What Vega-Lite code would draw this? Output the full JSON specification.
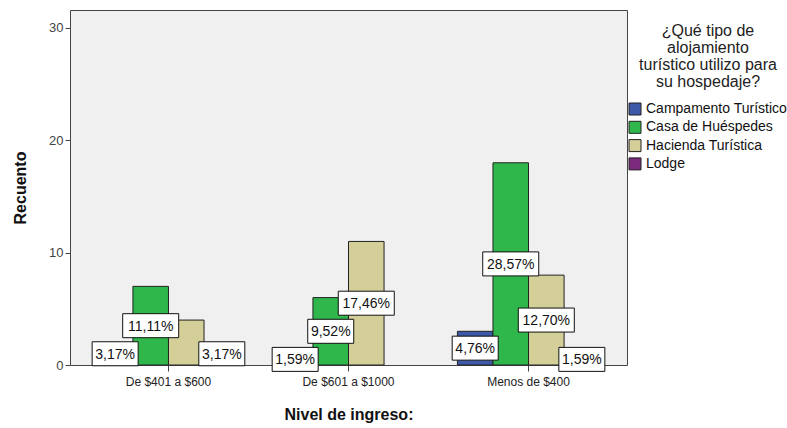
{
  "$schema": "https://vega.github.io/schema/vega-lite/v6.json",
  "width": 557,
  "height": 355,
  "autosize": "none",
  "padding": {"left": 70, "top": 10, "right": 160, "bottom": 63},
  "config": {
    "font": "Liberation Sans",
    "view": {"fill": "#F0F0F0", "stroke": "#444", "strokeWidth": 1}
  },
  "data": {
    "values": [
      {"nivel": "De $401 a $600", "tipo": "Campamento Turístico", "count": 2, "label": "3,17%"},
      {"nivel": "De $401 a $600", "tipo": "Casa de Huéspedes", "count": 7, "label": "11,11%"},
      {"nivel": "De $401 a $600", "tipo": "Hacienda Turística", "count": 4, "label": ""},
      {"nivel": "De $401 a $600", "tipo": "Lodge", "count": 2, "label": "3,17%"},
      {"nivel": "De $601 a $1000", "tipo": "Campamento Turístico", "count": 1, "label": "1,59%"},
      {"nivel": "De $601 a $1000", "tipo": "Casa de Huéspedes", "count": 6, "label": "9,52%"},
      {"nivel": "De $601 a $1000", "tipo": "Hacienda Turística", "count": 11, "label": "17,46%"},
      {"nivel": "De $601 a $1000", "tipo": "Lodge", "count": 0, "label": ""},
      {"nivel": "Menos de $400", "tipo": "Campamento Turístico", "count": 3, "label": "4,76%"},
      {"nivel": "Menos de $400", "tipo": "Casa de Huéspedes", "count": 18, "label": "28,57%"},
      {"nivel": "Menos de $400", "tipo": "Hacienda Turística", "count": 8, "label": "12,70%"},
      {"nivel": "Menos de $400", "tipo": "Lodge", "count": 1, "label": "1,59%"}
    ]
  },
  "encoding": {
    "x": {
      "field": "nivel",
      "type": "nominal",
      "sort": ["De $401 a $600", "De $601 a $1000", "Menos de $400"],
      "scale": {"paddingInner": 0.21, "paddingOuter": 0.152},
      "axis": {
        "title": "Nivel de ingreso:",
        "titleFontSize": 16,
        "titleFontWeight": "bold",
        "titleColor": "#111",
        "titlePadding": 19,
        "labelAngle": 0,
        "labelFontSize": 12,
        "labelColor": "#222",
        "labelPadding": 5,
        "tickSize": 6,
        "tickColor": "#444",
        "domain": false
      }
    },
    "xOffset": {
      "field": "tipo",
      "type": "nominal",
      "sort": ["Campamento Turístico", "Casa de Huéspedes", "Hacienda Turística", "Lodge"],
      "scale": {"paddingInner": 0, "paddingOuter": 0}
    }
  },
  "layer": [
    {
      "transform": [{"filter": "datum.count > 0"}],
      "mark": {"type": "bar", "stroke": "#222", "strokeWidth": 1, "opacity": 1},
      "encoding": {
        "y": {
          "field": "count",
          "type": "quantitative",
          "scale": {"domain": [0, 31.6], "nice": false},
          "axis": {
            "title": "Recuento",
            "titleFontSize": 16,
            "titleFontWeight": "bold",
            "titleColor": "#111",
            "titlePadding": 20,
            "values": [0, 10, 20, 30],
            "labelFontSize": 13,
            "labelColor": "#444",
            "tickSize": 5,
            "tickColor": "#444",
            "grid": false,
            "domain": false
          }
        },
        "color": {
          "field": "tipo",
          "type": "nominal",
          "sort": ["Campamento Turístico", "Casa de Huéspedes", "Hacienda Turística", "Lodge"],
          "scale": {
            "domain": ["Campamento Turístico", "Casa de Huéspedes", "Hacienda Turística", "Lodge"],
            "range": ["#3D5AA8", "#2FB74B", "#D4CF99", "#7B2A7E"]
          },
          "legend": {
            "orient": "none",
            "legendX": 558,
            "legendY": 13,
            "title": ["¿Qué tipo de", "alojamiento", "turístico utilizo para", "su hospedaje?"],
            "titleAlign": "center",
            "titleAnchor": "middle",
            "titleFontSize": 16,
            "titleFontWeight": "normal",
            "titleColor": "#222",
            "titleLineHeight": 17,
            "titlePadding": 12,
            "titleLimit": 300,
            "labelFontSize": 14,
            "labelColor": "#111",
            "labelLimit": 300,
            "labelOffset": 4,
            "symbolType": "square",
            "symbolSize": 144,
            "symbolStrokeColor": "#222",
            "symbolStrokeWidth": 1,
            "symbolOpacity": 1,
            "rowPadding": 2.3,
            "padding": 0
          }
        }
      }
    },
    {
      "transform": [
        {"filter": "length(datum.label) == 5"},
        {"calculate": "datum.count / 2", "as": "mid"}
      ],
      "mark": {
        "type": "point",
        "shape": "M-1,-0.522H1V0.522H-1Z",
        "size": 2116,
        "filled": true,
        "fill": "white",
        "stroke": "#111",
        "strokeWidth": 1,
        "opacity": 1,
        "fillOpacity": 1,
        "strokeOpacity": 1
      },
      "encoding": {"y": {"field": "mid", "type": "quantitative"}}
    },
    {
      "transform": [
        {"filter": "length(datum.label) == 6"},
        {"calculate": "datum.count / 2", "as": "mid"}
      ],
      "mark": {
        "type": "point",
        "shape": "M-1,-0.4286H1V0.4286H-1Z",
        "size": 3136,
        "filled": true,
        "fill": "white",
        "stroke": "#111",
        "strokeWidth": 1,
        "opacity": 1,
        "fillOpacity": 1,
        "strokeOpacity": 1
      },
      "encoding": {"y": {"field": "mid", "type": "quantitative"}}
    },
    {
      "transform": [
        {"filter": "datum.label != ''"},
        {"calculate": "datum.count / 2", "as": "mid"}
      ],
      "mark": {"type": "text", "fontSize": 14, "color": "#111", "align": "center", "baseline": "middle", "dy": 1},
      "encoding": {
        "y": {"field": "mid", "type": "quantitative"},
        "text": {"field": "label"}
      }
    }
  ]
}
